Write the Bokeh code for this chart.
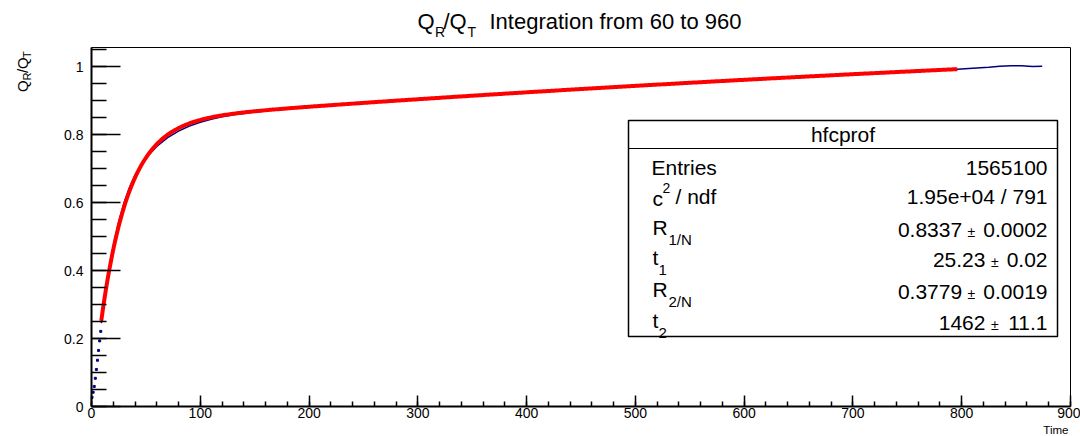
import numpy as np
from bokeh.plotting import figure
from bokeh.layouts import column, row
from bokeh.models import Range1d, FixedTicker, ColumnDataSource
from bokeh.core.properties import value
from bokeh.embed import file_html
from bokeh.resources import INLINE

# --- profile: integrated charge ratio Q_R/Q_T versus time ---
early_time = [0.5, 1.5, 2.5, 3.5, 4.5, 5.5, 6.5, 7.5, 8.5]
early_ratio = [0.027, 0.042, 0.059, 0.083, 0.109, 0.136, 0.165, 0.193, 0.221]

prof_time = [9, 10, 12, 15, 18, 20, 25, 30, 35, 40, 45, 50, 60, 70, 80, 90, 100,
             110, 120, 135, 150, 175, 200, 250, 300, 350, 400, 450, 500, 550,
             600, 650, 700, 750, 796, 810, 825, 835, 845, 855, 865, 874]
prof_ratio = [0.245, 0.270, 0.318, 0.385, 0.440, 0.472, 0.543, 0.600, 0.645,
              0.680, 0.708, 0.731, 0.765, 0.791, 0.810, 0.825, 0.836, 0.845,
              0.852, 0.860, 0.866, 0.875, 0.882, 0.895, 0.905, 0.915, 0.925,
              0.934, 0.943, 0.952, 0.961, 0.969, 0.977, 0.985, 0.992, 0.995,
              0.998, 1.001, 1.002, 1.002, 1.000, 1.001]

# --- two-exponential fit, parameters as quoted in the stats box ---
R1, T1, R2, T2 = 0.8337, 25.23, 0.3779, 1462
fit_start, fit_end = 9, 796

x_ticks = [0, 100, 200, 300, 400, 500, 600, 700, 800, 900]
y_ticks = [0, 0.2, 0.4, 0.6, 0.8, 1]
y_tick_labels = ["0", "0.2", "0.4", "0.6", "0.8", "1"]

stats_title = "hfcprof"
entries = "1565100"
chi2_ndf = "1.95e+04 / 791"
par_values = ["0.8337", "25.23", "0.3779", "1462"]
par_errors = ["0.0002", "0.02", "0.0019", "11.1"]

FONT = "Liberation Sans"
W, H = 1080, 436
TOP_H = 45          # title strip height
LEFT_W = 40         # y-title strip width
BOTTOM_H = 12       # x-title strip height
FL, FR, FT, FB = 91, 1070, 47, 406      # frame edges on the page, pixels
X_MAX, Y_MAX = 900, 1.056
MID_H = H - TOP_H - BOTTOM_H


def pixel_canvas(width, height):
    """Axis-less figure whose data coordinates are its own pixels."""
    f = figure(width=width, height=height, output_backend="svg",
               toolbar_location=None, x_axis_location=None, y_axis_location=None,
               x_range=Range1d(0, width), y_range=Range1d(0, height),
               min_border=0)
    f.outline_line_color = None
    f.background_fill_color = "white"
    f.border_fill_color = "white"
    f.grid.visible = False
    return f


def draw_texts(f, items):
    src = ColumnDataSource(dict(
        x=[t[0] for t in items], y=[t[1] for t in items], s=[t[2] for t in items],
        size=[f"{t[3]}px" for t in items], align=[t[4] for t in items],
        angle=[t[5] for t in items]))
    f.text(x="x", y="y", text="s", source=src, text_font=value(FONT),
           text_font_size="size", text_align="align", angle="angle",
           text_baseline="middle", text_color="black")


# ---------------- title strip ----------------
title_fig = pixel_canvas(W, TOP_H)
ty = lambda py: TOP_H - py
draw_texts(title_fig, [
    (417, ty(21), "Q", 22, "left", 0.0),
    (434.5, ty(31), "R", 14, "left", 0.0),
    (443, ty(21), "/Q", 22, "left", 0.0),
    (467, ty(31), "T", 14, "left", 0.0),
    (489, ty(21), "Integration from 60 to 960", 22, "left", 0.0),
])

# ---------------- y-title strip ----------------
ylab_fig = pixel_canvas(LEFT_W, MID_H)
ly = lambda py: TOP_H + MID_H - py
A = np.pi / 2
draw_texts(ylab_fig, [
    (21.5, ly(92), "Q", 15, "left", A),
    (26, ly(79.8), "R", 11, "left", A),
    (21.5, ly(72), "/Q", 15, "left", A),
    (26, ly(56), "T", 11, "left", A),
])

# ---------------- x-title strip ----------------
xlab_fig = pixel_canvas(W, BOTTOM_H)
draw_texts(xlab_fig, [(1068, H - 429.5, "Time", 11.5, "right", 0.0)])

# ---------------- main plot ----------------
p = figure(width=W - LEFT_W, height=MID_H, output_backend="svg",
           toolbar_location=None,
           x_range=Range1d(0, X_MAX), y_range=Range1d(0, Y_MAX),
           min_border_left=FL - LEFT_W, min_border_right=W - FR,
           min_border_top=FT - TOP_H, min_border_bottom=H - BOTTOM_H - FB)
p.background_fill_color = "white"
p.border_fill_color = "white"
p.outline_line_color = "black"
p.outline_line_width = 1
p.grid.visible = False


def X(px):
    return (px - FL) / (FR - FL) * X_MAX


def Y(py):
    return (FB - py) / (FB - FT) * Y_MAX


# axes: ROOT-style ticks pointing into the frame
p.xaxis.ticker = FixedTicker(ticks=x_ticks, minor_ticks=list(range(0, 901, 20)))
p.yaxis.ticker = FixedTicker(ticks=y_ticks, minor_ticks=[i * 0.05 for i in range(22)])
p.yaxis.major_label_overrides = dict(zip(y_ticks, y_tick_labels))
for ax in (p.xaxis[0], p.yaxis[0]):
    ax.axis_line_width = 2
    ax.major_tick_line_width = 1.5
    ax.minor_tick_line_width = 1.5
    ax.major_tick_out = 0
    ax.minor_tick_out = 0
    ax.major_label_text_font = FONT
    ax.major_label_text_font_size = "14px"
    ax.major_label_text_color = "black"
p.xaxis.major_tick_in = 11
p.xaxis.minor_tick_in = 5
p.xaxis.major_label_standoff = 1
p.yaxis.major_tick_in = 29
p.yaxis.minor_tick_in = 15
p.yaxis.major_label_standoff = 8

# profile points and fit curve
p.line(prof_time, prof_ratio, line_color="navy", line_width=1.5)
p.scatter(early_time, early_ratio, marker="square", size=2,
          fill_color="navy", line_color="navy")
fit_t = np.linspace(fit_start, fit_end, 600)
fit_q = R1 * (1 - np.exp(-fit_t / T1)) + R2 * (1 - np.exp(-fit_t / T2))
p.line(fit_t, fit_q, line_color="red", line_width=4)

# statistics box
BL, BR, BT, BB, BH = 628, 1057, 120, 336, 148
p.quad(left=X(BL), right=X(BR), top=Y(BT), bottom=Y(BB),
       fill_color="white", line_color="black", line_width=1.5)
p.segment(x0=X(BL), x1=X(BR), y0=Y(BH), y1=Y(BH), line_color="black", line_width=1)

box = []


def box_text(px, py, s, size, align="left"):
    box.append((X(px), Y(py), s, size, align, 0.0))


box_text((BL + BR) / 2, 134, stats_title, 21, align="center")

XL, XR = 651, 1047
box_text(XL, 167, "Entries", 21)
box_text(XR, 167, entries, 21, align="right")

box_text(XL + 1, 198, "c", 21)
box_text(XL + 11, 187, "2", 14)
box_text(XL + 24, 196, "/ ndf", 21)
box_text(XR, 196, chi2_ndf, 21, align="right")

row_mid = [227, 257, 289, 320]
row_names = [("R", "1/N"), ("t", "1"), ("R", "2/N"), ("t", "2")]


def num_width(s, size):
    return sum(0.278 if c in ". " else 0.556 for c in s) * size


for (main, sub), ym, val, err in zip(row_names, row_mid, par_values, par_errors):
    box_text(XL + 1, ym, main, 21)
    if main == "R":
        box_text(XL + 17, ym + 12, sub, 15)
    else:
        box_text(XL + 7, ym + 12, sub, 15)
    box_text(XR, ym + 2, err, 21, align="right")
    pm_right = XR - num_width(err, 21) - 8
    box_text(pm_right, ym + 4, "\u00b1", 14, align="right")
    box_text(pm_right - 0.584 * 14 - 5, ym + 2, val, 21, align="right")

draw_texts(p, box)

layout = column(title_fig, row(ylab_fig, p), xlab_fig)
open("out.html", "w").write(file_html(layout, INLINE))
